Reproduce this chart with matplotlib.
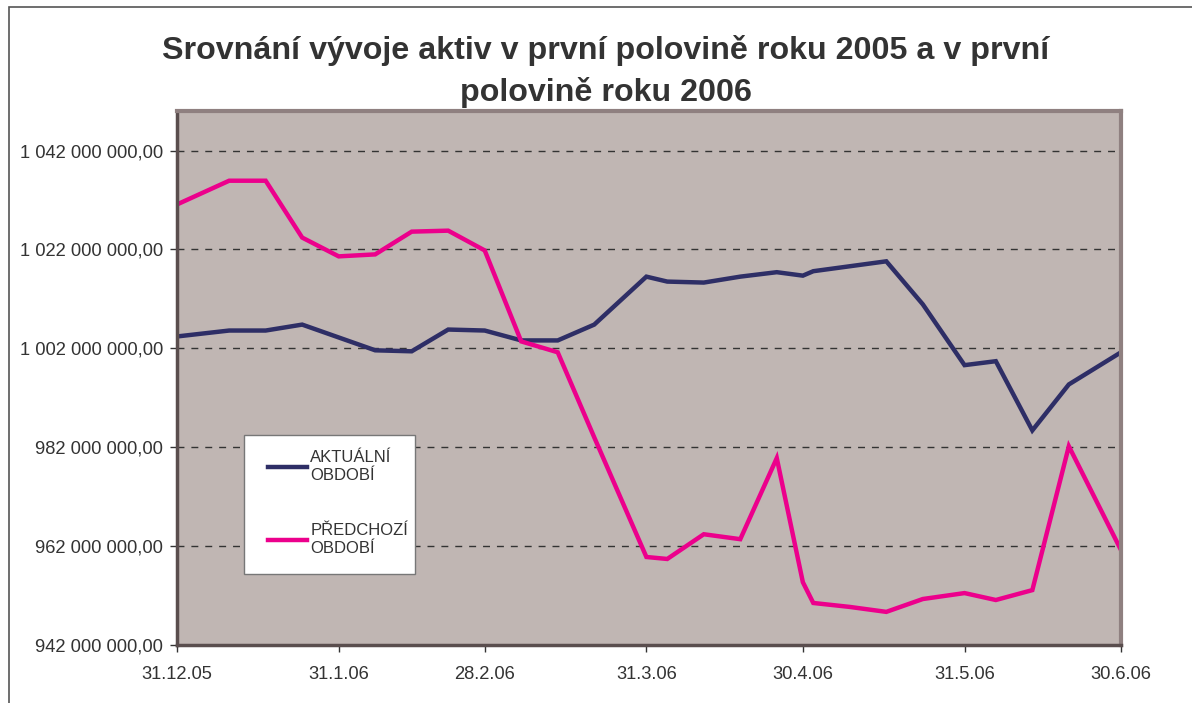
import matplotlib
matplotlib.use('Agg')
import matplotlib.pyplot as plt
from matplotlib.patches import Rectangle
import pandas as pd

# data
dates = ['2005-12-31', '2006-01-10', '2006-01-17', '2006-01-24', '2006-01-31',
         '2006-02-07', '2006-02-14', '2006-02-21', '2006-02-28', '2006-03-07',
         '2006-03-14', '2006-03-21', '2006-03-31', '2006-04-04', '2006-04-11',
         '2006-04-18', '2006-04-25', '2006-04-30', '2006-05-02', '2006-05-09',
         '2006-05-16', '2006-05-23', '2006-05-31', '2006-06-06', '2006-06-13',
         '2006-06-20', '2006-06-30']
aktualni = [1004.4, 1005.6, 1005.6, 1006.8, 1004.2, 1001.6, 1001.4, 1005.8, 1005.6,
            1003.6, 1003.6, 1006.8, 1016.5, 1015.5, 1015.3, 1016.5, 1017.4, 1016.7,
            1017.6, 1018.6, 1019.6, 1010.9, 998.6, 999.4, 985.4, 994.7, 1001.2]
predchozi = [1031.1, 1035.9, 1035.9, 1024.4, 1020.6, 1021.0, 1025.6, 1025.8, 1021.8,
             1003.4, 1001.2, 984.0, 959.8, 959.4, 964.4, 963.4, 979.8, 954.7,
             950.5, 949.7, 948.7, 951.3, 952.5, 951.1, 953.1, 982.2, 961.2]
tick_dates = ['2005-12-31', '2006-01-31', '2006-02-28', '2006-03-31',
              '2006-04-30', '2006-05-31', '2006-06-30']
tick_labels = ['31.12.05', '31.1.06', '28.2.06', '31.3.06', '30.4.06', '31.5.06', '30.6.06']
y_ticks = [942e6, 962e6, 982e6, 1002e6, 1022e6, 1042e6]

x = pd.to_datetime(dates)
ya = [v * 1e6 for v in aktualni]
yp = [v * 1e6 for v in predchozi]

plt.rcParams['font.family'] = ['Liberation Sans', 'DejaVu Sans']

W, H = 1192, 703
fig = plt.figure(figsize=(W / 100, H / 100), dpi=100)
# outer chart border (cropped at right and bottom)
fig.patches.append(Rectangle((9 / W, -0.1), 1.2, 1 - 7 / H + 0.1,
                             transform=fig.transFigure, fill=False,
                             edgecolor='#555555', linewidth=1.2))

L, R, T, B = 177, 1121, 111, 645
ax = fig.add_axes([L / W, 1 - B / H, (R - L) / W, (B - T) / H])
ax.set_facecolor('#C0B6B3')

ax.plot(x, ya, color='#2E2E66', linewidth=3.2, label='AKTUÁLNÍ\nOBDOBÍ', solid_joinstyle='miter')
ax.plot(x, yp, color='#EC008C', linewidth=3.2, label='PŘEDCHOZÍ\nOBDOBÍ', solid_joinstyle='miter')

ax.set_xlim(pd.Timestamp(dates[0]), pd.Timestamp(dates[-1]))
ax.set_ylim(942e6, 1050e6)

ax.set_yticks(y_ticks)
ax.set_yticklabels(['{:,.2f}'.format(v).replace(',', ' ').replace('.', ',') for v in y_ticks])
ax.set_xticks(pd.to_datetime(tick_dates))
ax.set_xticklabels(tick_labels)
ax.tick_params(axis='both', labelsize=13.2, colors='#333333', length=5, width=1)
ax.tick_params(axis='y', pad=5)
ax.tick_params(axis='x', pad=10)

ax.grid(axis='y', linestyle=(0, (5, 5)), color='#333333', linewidth=1)
ax.set_axisbelow(True)

for side in ['top', 'right']:
    ax.spines[side].set_color('#8F8080')
    ax.spines[side].set_linewidth(3)
for side in ['left', 'bottom']:
    ax.spines[side].set_color('#5A4E4E')
    ax.spines[side].set_linewidth(2.5)

fig.text(0.508, 1 - 50 / H, 'Srovnání vývoje aktiv v první polovině roku 2005 a v první',
         ha='center', va='center', fontsize=23.2, fontweight='bold', color='#333333')
fig.text(0.508, 1 - 93 / H, 'polovině roku 2006',
         ha='center', va='center', fontsize=23.2, fontweight='bold', color='#333333')

# legend box, white with gray border
ax.add_patch(Rectangle(((244 - L) / (R - L), 1 - (574 - T) / (B - T)),
                       (415 - 244) / (R - L), (574 - 435) / (B - T),
                       transform=ax.transAxes, facecolor='white',
                       edgecolor='#777777', linewidth=1, zorder=5))
leg = ax.legend(loc='upper left', bbox_to_anchor=((268 - L) / (R - L), 1 - (450 - T) / (B - T)),
                frameon=False, fontsize=12, handlelength=2.35,
                labelspacing=2.4, borderpad=0, handletextpad=0.18,
                borderaxespad=0)
leg.set_zorder(6)
for t in leg.get_texts():
    t.set_color('#333333')
    t.set_linespacing(1.25)

fig.savefig('out.png', dpi=100)
